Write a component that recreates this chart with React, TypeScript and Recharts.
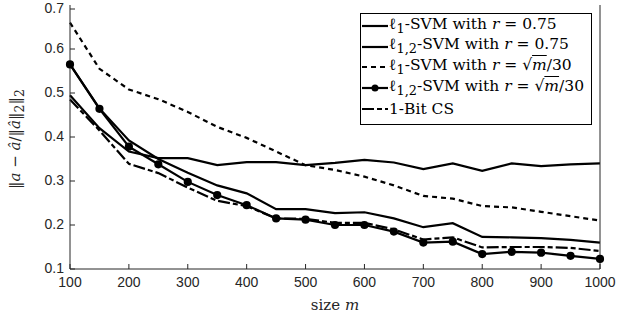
import { LineChart, Line, XAxis, YAxis } from 'recharts';

const sizes = [100, 150, 200, 250, 300, 350, 400, 450, 500, 550, 600, 650, 700, 750, 800, 850, 900, 950, 1000];
const l1Fixed = [0.495, 0.42, 0.367, 0.352, 0.352, 0.336, 0.343, 0.343, 0.336, 0.341, 0.348, 0.342, 0.327, 0.34, 0.323, 0.34, 0.334, 0.338, 0.34];
const l12Fixed = [0.565, 0.465, 0.392, 0.35, 0.319, 0.29, 0.272, 0.236, 0.236, 0.227, 0.229, 0.215, 0.195, 0.204, 0.173, 0.172, 0.17, 0.166, 0.16];
const l1Sqrt = [0.66, 0.555, 0.508, 0.486, 0.457, 0.423, 0.398, 0.367, 0.336, 0.325, 0.31, 0.29, 0.266, 0.26, 0.243, 0.24, 0.23, 0.22, 0.21];
const l12Sqrt = [0.565, 0.464, 0.378, 0.338, 0.298, 0.268, 0.245, 0.215, 0.212, 0.2, 0.2, 0.185, 0.16, 0.162, 0.134, 0.139, 0.137, 0.13, 0.123];
const oneBit = [0.485, 0.415, 0.339, 0.318, 0.285, 0.255, 0.243, 0.215, 0.214, 0.205, 0.205, 0.19, 0.167, 0.172, 0.149, 0.15, 0.15, 0.148, 0.141];

const xTicks = [100, 200, 300, 400, 500, 600, 700, 800, 900, 1000];
const yTicks = [0.1, 0.2, 0.3, 0.4, 0.5, 0.6, 0.7];

const data = sizes.map((m, i) => ({
  m,
  l1Fixed: l1Fixed[i],
  l12Fixed: l12Fixed[i],
  l1Sqrt: l1Sqrt[i],
  l12Sqrt: l12Sqrt[i],
  oneBit: oneBit[i],
}));

const AX = '#262626';
const TICK_FONT = { fontFamily: 'Liberation Sans', fontSize: 14, fill: AX };

const BottomTick = (p: any) => (
  <g>
    <line x1={p.x} y1={p.y} x2={p.x} y2={p.y - 5} stroke={AX} />
    <text x={p.x} y={p.y + 18} textAnchor="middle" {...TICK_FONT}>{p.payload.value}</text>
  </g>
);
const TopTick = (p: any) => <line x1={p.x} y1={p.y} x2={p.x} y2={p.y + 5} stroke={AX} />;
const LeftTick = (p: any) => (
  <g>
    <line x1={p.x} y1={p.y} x2={p.x + 5} y2={p.y} stroke={AX} />
    <text x={p.x - 6} y={p.y + 4} textAnchor="end" {...TICK_FONT}>{p.payload.value.toFixed(1)}</text>
  </g>
);
const RightTick = (p: any) => <line x1={p.x} y1={p.y} x2={p.x - 5} y2={p.y} stroke={AX} />;

const sqrtM = <>√<span style={{ textDecoration: 'overline' }}><i>m</i></span>/30</>;

const legendRows = [
  { dash: undefined, dot: false, label: <>ℓ<sub>1</sub>-SVM with <i>r</i> = 0.75</> },
  { dash: undefined, dot: false, label: <>ℓ<sub>1,2</sub>-SVM with <i>r</i> = 0.75</> },
  { dash: '5 4', dot: false, label: <>ℓ<sub>1</sub>-SVM with <i>r</i> = {sqrtM}</> },
  { dash: undefined, dot: true, label: <>ℓ<sub>1,2</sub>-SVM with <i>r</i> = {sqrtM}</> },
  { dash: '12 3 5 3', dot: false, label: <>1-Bit CS</> },
];

export default function App() {
  return (
    <div style={{ position: 'absolute', left: 0, top: 0, width: 618, height: 314, background: '#fff' }}>
      <LineChart width={618} height={314} data={data} margin={{ top: 5, right: 0, left: 0, bottom: 0 }}>
        <XAxis dataKey="m" type="number" domain={[100, 1000]} ticks={xTicks} height={45}
          tickSize={0} tickMargin={0} tickLine={false} stroke={AX} tick={<BottomTick />} />
        <XAxis xAxisId="top" orientation="top" dataKey="m" type="number" domain={[100, 1000]} ticks={xTicks} height={0}
          tickSize={0} tickMargin={0} tickLine={false} stroke={AX} tick={<TopTick />} />
        <YAxis type="number" domain={[0.1, 0.7]} ticks={yTicks} width={70}
          tickSize={0} tickMargin={0} tickLine={false} stroke={AX} tick={<LeftTick />} />
        <YAxis yAxisId="right" orientation="right" type="number" domain={[0.1, 0.7]} ticks={yTicks} width={18}
          tickSize={0} tickMargin={0} tickLine={false} stroke={AX} tick={<RightTick />} />
        <Line dataKey="l1Sqrt" stroke="#000" strokeWidth={2.2} strokeDasharray="5 4" dot={false} isAnimationActive={false} />
        <Line dataKey="l1Fixed" stroke="#000" strokeWidth={2.2} dot={false} isAnimationActive={false} />
        <Line dataKey="l12Fixed" stroke="#000" strokeWidth={2.2} dot={false} isAnimationActive={false} />
        <Line dataKey="oneBit" stroke="#000" strokeWidth={2.2} strokeDasharray="12 3 5 3" dot={false} isAnimationActive={false} />
        <Line dataKey="l12Sqrt" stroke="#000" strokeWidth={2.2} dot={{ r: 3, fill: '#000', stroke: '#000' }} isAnimationActive={false} />
      </LineChart>

      <div style={{ position: 'absolute', left: 360, top: 13, width: 230, height: 108, border: '1.5px solid #000', background: '#fff',
        fontFamily: 'DejaVu Serif', fontSize: 15.5, color: '#000', paddingTop: 2 }}>
        {legendRows.map((r, i) => (
          <div key={i} style={{ display: 'flex', alignItems: 'center', height: 20.6, whiteSpace: 'nowrap' }}>
            <svg width={28} height={10} style={{ flex: 'none' }}>
              <line x1={1} y1={5} x2={27} y2={5} stroke="#000" strokeWidth={2.2} strokeDasharray={r.dash} />
              {r.dot && <circle cx={14} cy={5} r={3.5} fill="#000" />}
            </svg>
            <span style={{ lineHeight: '16px' }}>{r.label}</span>
          </div>
        ))}
      </div>

      <div style={{ position: 'absolute', left: 335, top: 296, transform: 'translateX(-50%)', fontFamily: 'DejaVu Serif', fontSize: 15, color: AX, whiteSpace: 'nowrap' }}>
        size <i>m</i>
      </div>
      <div style={{ position: 'absolute', left: 16, top: 139, transform: 'translate(-50%, -50%) rotate(-90deg)', fontFamily: 'DejaVu Serif', fontSize: 15, color: AX, whiteSpace: 'nowrap' }}>
        ‖<i>a</i> − <i>â</i>/‖<i>â</i>‖<sub>2</sub>‖<sub>2</sub>
      </div>
    </div>
  );
}
